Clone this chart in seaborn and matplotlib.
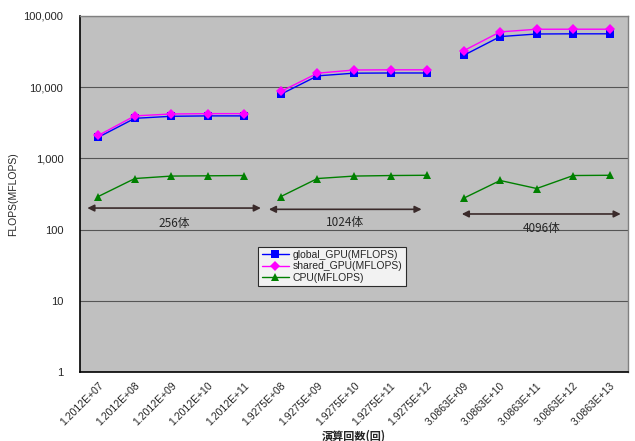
import numpy as np
import pandas as pd
import seaborn as sns
import matplotlib.pyplot as plt
from matplotlib.ticker import FixedLocator, FuncFormatter

categories = ["1.2012E+07", "1.2012E+08", "1.2012E+09", "1.2012E+10", "1.2012E+11",
              "1.9275E+08", "1.9275E+09", "1.9275E+10", "1.9275E+11", "1.9275E+12",
              "3.0863E+09", "3.0863E+10", "3.0863E+11", "3.0863E+12", "3.0863E+13"]
groups = ["256体"] * 5 + ["1024体"] * 5 + ["4096体"] * 5

global_gpu = [1980, 3650, 3900, 3950, 3950,
              7960, 14400, 15700, 15800, 15800,
              27900, 51200, 55700, 56000, 56000]
shared_gpu = [2100, 3950, 4200, 4250, 4250,
              8700, 15700, 17400, 17500, 17500,
              32400, 59600, 64900, 65000, 65000]
cpu = [292, 522, 565, 570, 575,
       292, 522, 565, 575, 580,
       276, 490, 378, 575, 580]

series_names = ["global_GPU(MFLOPS)", "shared_GPU(MFLOPS)", "CPU(MFLOPS)"]
colors = {"global_GPU(MFLOPS)": "#0000FF", "shared_GPU(MFLOPS)": "#FF00FF", "CPU(MFLOPS)": "#008000"}
markers = {"global_GPU(MFLOPS)": "s", "shared_GPU(MFLOPS)": "D", "CPU(MFLOPS)": "^"}

rows = []
for name, vals in zip(series_names, [global_gpu, shared_gpu, cpu]):
    for i, v in enumerate(vals):
        rows.append({"pos": i, "value": v, "series": name, "group": groups[i]})
df = pd.DataFrame(rows)

sns.set_style("white")
plt.rcParams['font.family'] = ['Noto Sans CJK JP', 'DejaVu Sans']

fig = plt.figure(figsize=(6.35, 4.41), dpi=100)
ax = fig.add_axes([0.126, 0.156, 0.863, 0.808])
ax.set_facecolor("#C0C0C0")

sns.lineplot(data=df, x="pos", y="value", hue="series", style="series",
             units="group", estimator=None, palette=colors, markers=markers,
             dashes=False, markersize=5.5, linewidth=1, markeredgewidth=0, ax=ax)

ax.set_yscale("log")
ax.set_ylim(1, 100000)
ax.set_xlim(-0.5, 14.5)
ax.yaxis.set_major_locator(FixedLocator([1, 10, 100, 1000, 10000, 100000]))
ax.yaxis.set_minor_locator(FixedLocator([]))
ax.yaxis.set_major_formatter(FuncFormatter(lambda v, p: f"{int(round(v)):,}"))
ax.grid(axis="y", color="#555555", linewidth=0.8)
ax.set_axisbelow(True)

ax.set_xticks(range(len(categories)))
ax.set_xticklabels(categories, rotation=45, ha="right", va="top",
                   rotation_mode="anchor", fontsize=7.5, family="Liberation Sans")
ax.set_xticks(np.arange(-0.5, 15, 1), minor=True)
ax.tick_params(axis="x", which="major", length=0, pad=6)
ax.tick_params(axis="x", which="minor", length=4, width=0.8, color="black", direction="out")
ax.tick_params(axis="y", length=4, width=0.8, color="black", direction="out", labelsize=8, pad=8)
for lbl in ax.get_yticklabels():
    lbl.set_family("Liberation Sans")

for side in ["left", "bottom"]:
    ax.spines[side].set_color("black")
    ax.spines[side].set_linewidth(1.2)
for side in ["top", "right"]:
    ax.spines[side].set_color("#808080")
    ax.spines[side].set_linewidth(1)

ax.set_xlabel("演算回数(回)", fontsize=8, fontweight="bold", labelpad=1)
ax.set_ylabel("FLOPS(MFLOPS)", fontsize=7.5, family="Liberation Sans")
ax.yaxis.set_label_coords(-0.113, 0.5)

# group arrows and labels
arrow_spec = [(-0.3, 4.45, 201, 152, "256体"),
              (4.67, 8.85, 193, 157, "1024体"),
              (9.95, 14.3, 166, 130, "4096体")]
for x0, x1, ya, yt, lbl in arrow_spec:
    ax.annotate("", xy=(x1, ya), xytext=(x0, ya),
                arrowprops=dict(arrowstyle="<|-|>", color="#3a2a2a", lw=1.2,
                                mutation_scale=10, shrinkA=0, shrinkB=0))
    ax.text((x0 + x1) / 2, yt, lbl, ha="center", va="top", fontsize=8.5)

leg = ax.legend(title=None, loc="upper left", bbox_to_anchor=(0.316, 0.366),
                fontsize=7.5, frameon=True, fancybox=False, borderpad=0.3,
                handlelength=2.6, labelspacing=0.12, handletextpad=0.4)
leg.get_frame().set_edgecolor("black")
leg.get_frame().set_facecolor("white")
leg.get_frame().set_linewidth(0.8)
for t in leg.get_texts():
    t.set_family("Liberation Sans")

fig.savefig("out.png", dpi=100)
